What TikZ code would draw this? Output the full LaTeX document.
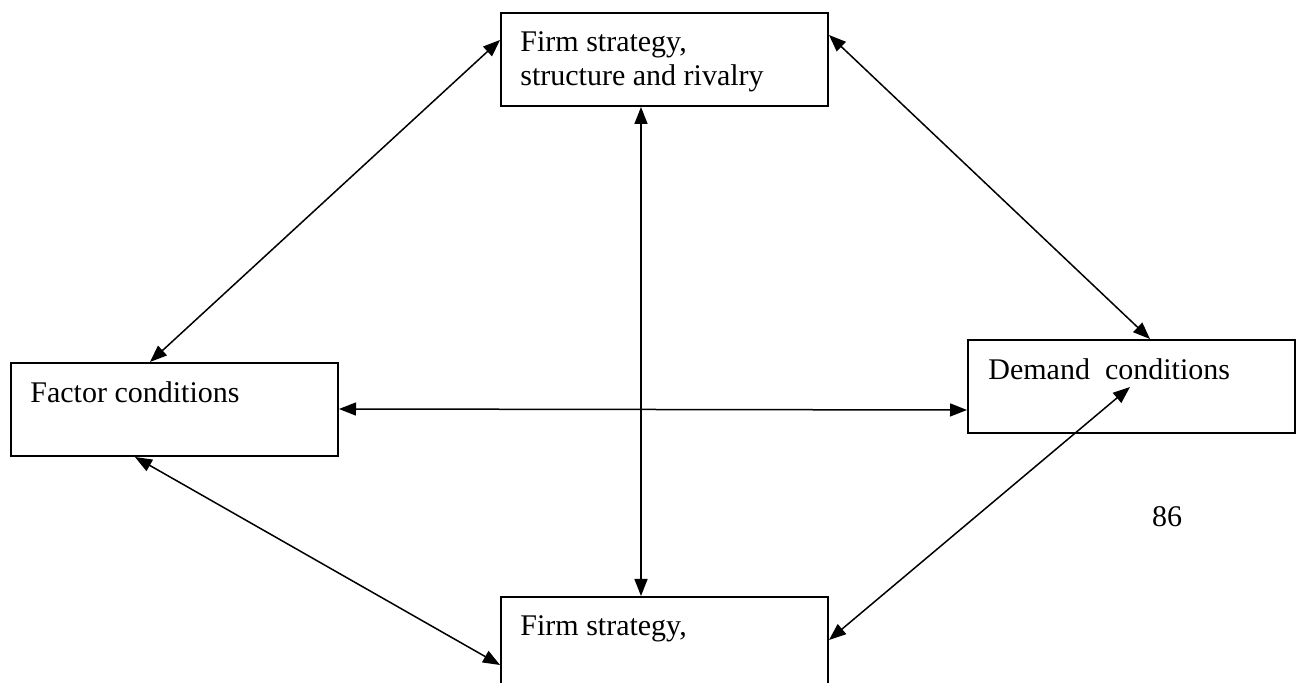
\documentclass[tikz,border=0pt]{standalone}
\usepackage{fontspec}
\setmainfont{Liberation Serif}
\usetikzlibrary{arrows.meta}

\begin{document}
\begin{tikzpicture}[x=0.5pt,y=-0.5pt,
  box/.style={draw,line width=1pt,minimum width=163.5pt,minimum height=46.5pt,inner sep=0pt,anchor=north west},
  txt/.style={font=\fontsize{15pt}{17pt}\selectfont,align=left,inner sep=0pt,anchor=north west},
  conn/.style={line width=0.75pt,{Triangle[length=8.5pt,width=6.5pt]}-{Triangle[length=8.5pt,width=6.5pt]}}]
\useasboundingbox (0,0) rectangle (1297,683);
\clip (0,0) rectangle (1297,683);
 \node[box] (firm) at (500,12) {};
 \node[box] (fac) at (10,362) {};
 \node[box] (dem) at (967,339) {};
 \node[box] (firmb) at (500,596) {};
 \node[txt] (firmtxt) at (520,31) {Firm strategy,\\structure and rivalry};
 \node[txt] (factxt) at (30,381) {Factor conditions};
 \node[txt] (demtxt) at (988,358) {Demand\ \ conditions};
 \node[txt] (firmbtxt) at (520,615) {Firm strategy,};
 \node[font=\fontsize{15pt}{17pt}\selectfont,inner sep=0pt,anchor=base] (page) at (1167,527) {86};
  \draw[conn] ([yshift=-14pt]firm.north west)--([xshift=70pt]fac.north west);
  \draw[conn] ([yshift=-11.5pt]firm.north east)--([xshift=91.5pt]dem.north west);
  \draw[conn] ([xshift=70.5pt]firm.south west)--([xshift=70.5pt]firmb.north west);
  \draw[conn] ([yshift=-23.5pt]fac.north east)--([yshift=-35.5pt]dem.north west);
  \draw[conn] ([xshift=62.5pt]fac.south west)--([yshift=-34.5pt]firmb.north west);
  \draw[conn] ([yshift=-22pt]firmb.north east)--([xshift=81.5pt,yshift=-24pt]dem.north west);
\end{tikzpicture}
\end{document}
